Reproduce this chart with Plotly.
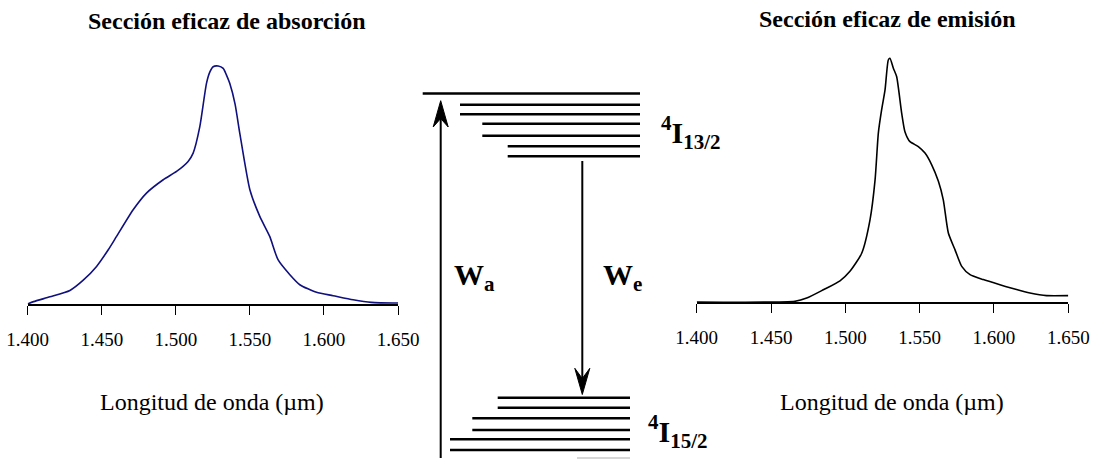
import plotly.graph_objects as go

# ---------------- data ----------------
tick_vals = [1.400, 1.450, 1.500, 1.550, 1.600, 1.650]
tick_text = ["1.400", "1.450", "1.500", "1.550", "1.600", "1.650"]

abs_wl = [1.400, 1.404, 1.415, 1.4285, 1.4375, 1.4465, 1.4544, 1.460, 1.4712, 1.4802,
          1.4915, 1.5005, 1.5083, 1.5117, 1.5162, 1.5207, 1.5230, 1.5252, 1.5286, 1.532,
          1.5340, 1.5364, 1.5400, 1.5432, 1.550, 1.5567, 1.5634, 1.569, 1.577, 1.5837,
          1.595, 1.6062, 1.6197, 1.632, 1.650]
abs_val = [0.0, 0.01, 0.03, 0.057, 0.10, 0.158, 0.228, 0.284, 0.396, 0.466,
           0.522, 0.557, 0.599, 0.634, 0.745, 0.927, 0.975, 0.997, 1.0, 0.99,
           0.965, 0.927, 0.84, 0.717, 0.48, 0.368, 0.284, 0.186, 0.123, 0.081,
           0.049, 0.035, 0.018, 0.007, 0.004]

emi_wl = [1.400, 1.4661, 1.474, 1.4852, 1.4964, 1.5031, 1.511, 1.5166, 1.520, 1.5222,
          1.5244, 1.5267, 1.5289, 1.530, 1.5323, 1.5345, 1.5379, 1.5401, 1.5435, 1.5491,
          1.5536, 1.5581, 1.5626, 1.5659, 1.5693, 1.5738, 1.5783, 1.5839, 1.5928, 1.604,
          1.6152, 1.6242, 1.6354, 1.650]
emi_val = [0.0, 0.003, 0.016, 0.05, 0.087, 0.126, 0.2, 0.337, 0.501, 0.693,
           0.788, 0.870, 0.993, 1.0, 0.959, 0.925, 0.775, 0.699, 0.658, 0.638,
           0.611, 0.563, 0.495, 0.419, 0.283, 0.214, 0.146, 0.112, 0.092, 0.071,
           0.051, 0.037, 0.026, 0.026]

title_abs = "Sección eficaz de absorción"
title_emi = "Sección eficaz de emisión"
x_title = "Longitud de onda (µm)"

W, H = 1094, 459
SERIF = "Liberation Serif, Times New Roman, serif"

fig = go.Figure()
fig.add_trace(go.Scatter(x=abs_wl, y=abs_val, mode="lines", xaxis="x", yaxis="y",
                         line=dict(color="#10107f", width=1.6, shape="spline", smoothing=0.6),
                         showlegend=False, hoverinfo="skip"))
fig.add_trace(go.Scatter(x=emi_wl, y=emi_val, mode="lines", xaxis="x2", yaxis="y2",
                         line=dict(color="#000000", width=1.6, shape="spline", smoothing=0.6),
                         showlegend=False, hoverinfo="skip"))

def xaxis_common(domain, anchor):
    return dict(domain=domain, anchor=anchor, range=[1.4, 1.65], automargin=False,
                tickmode="array", tickvals=tick_vals, ticktext=tick_text,
                ticks="outside", ticklen=9, tickwidth=1.2, tickcolor="black",
                showline=True, linecolor="black", linewidth=1.5,
                showgrid=False, zeroline=False, fixedrange=True,
                tickfont=dict(family=SERIF, size=19, color="black"),
                ticklabelstandoff=8)

fig.update_layout(
    template="none",
    width=W, height=H,
    margin=dict(l=0, r=0, t=0, b=0, autoexpand=False),
    paper_bgcolor="white", plot_bgcolor="rgba(0,0,0,0)",
    xaxis=xaxis_common([27.7 / W, 398 / W], "y"),
    yaxis=dict(domain=[1 - 304 / H, 1 - 55 / H], range=[0, 1.0462], visible=False,
               fixedrange=True, automargin=False),
    xaxis2=xaxis_common([696.7 / W, 1068.3 / W], "y2"),
    yaxis2=dict(domain=[1 - 302 / H, 1 - 50 / H], range=[0, 1.034], visible=False,
                fixedrange=True, automargin=False),
    xaxis3=dict(domain=[0, 1], range=[0, W], visible=False, anchor="y3",
                fixedrange=True, automargin=False),
    yaxis3=dict(domain=[0, 1], range=[H, 0], visible=False, anchor="x3",
                fixedrange=True, automargin=False),
)
fig.add_trace(go.Scatter(x=[], y=[], xaxis="x3", yaxis="y3", showlegend=False))

shapes = []
def hline(x0, x1, y, w=2.4, color="black"):
    shapes.append(dict(type="line", xref="x3", yref="y3", x0=x0, x1=x1, y0=y, y1=y,
                       line=dict(color=color, width=w)))

# upper manifold 4I13/2
hline(422.7, 640, 93.5)
for (x0, y) in [(460, 104.7), (460, 114.3), (482.3, 123.7), (482.3, 135.7),
                (507.7, 146.3), (507.7, 156.3)]:
    hline(x0, 640, y)
# lower manifold 4I15/2
for (x0, y) in [(497.7, 397.7), (497.7, 407.7), (472.3, 418.3), (472.3, 430),
                (450, 439.3), (450, 450)]:
    hline(x0, 630, y)
hline(577, 630, 458, w=1.5, color="#c8c8c8")

# up arrow (absorption)
shapes.append(dict(type="line", xref="x3", yref="y3", x0=440.7, x1=440.7, y0=458, y1=115,
                   line=dict(color="black", width=2)))
shapes.append(dict(type="path", xref="x3", yref="y3",
                   path="M 440.7 100.7 L 448.2 127 L 440.7 118.5 L 433.2 127 Z",
                   fillcolor="black", line=dict(color="black", width=1)))
# down arrow (emission)
shapes.append(dict(type="line", xref="x3", yref="y3", x0=582.3, x1=582.3, y0=161, y1=382,
                   line=dict(color="black", width=2)))
shapes.append(dict(type="path", xref="x3", yref="y3",
                   path="M 582.3 394.5 L 589.8 368.3 L 582.3 378.5 L 574.8 368.3 Z",
                   fillcolor="black", line=dict(color="black", width=1)))

fig.update_layout(shapes=shapes)

ann = []
def text(x, y, s, size, bold=False, xanchor="center", yanchor="middle"):
    ann.append(dict(xref="x3", yref="y3", x=x, y=y, text=("<b>%s</b>" % s) if bold else s,
                    showarrow=False, xanchor=xanchor, yanchor=yanchor,
                    font=dict(family=SERIF, size=size, color="black")))

text(227, 21, title_abs, 24, bold=True)
text(887, 19, title_emi, 24, bold=True)
text(211.5, 402, x_title, 24)
text(891.5, 402, x_title, 24)
text(452, 277, "W<sub>a</sub>", 30, bold=True, xanchor="left")
text(601, 277, "W<sub>e</sub>", 30, bold=True, xanchor="left")
text(659, 132, "<sup>4</sup>I<sub>13/2</sub>", 30, bold=True, xanchor="left")
text(646, 431, "<sup>4</sup>I<sub>15/2</sub>", 30, bold=True, xanchor="left")
fig.update_layout(annotations=ann)

fig.write_html("out.html")
